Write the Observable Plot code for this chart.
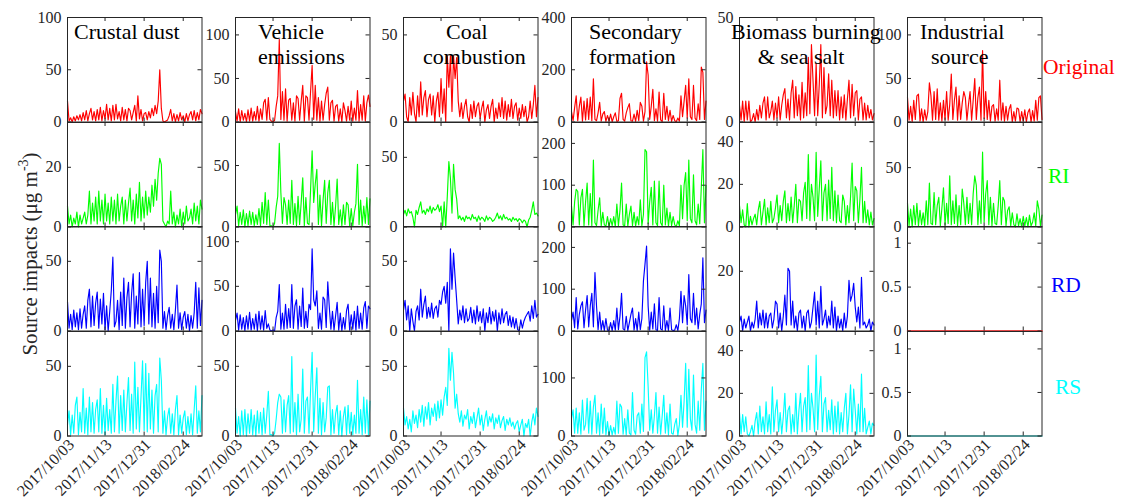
<!DOCTYPE html>
<html><head><meta charset="utf-8">
<script src="https://cdn.jsdelivr.net/npm/d3@7"></script>
<script src="https://cdn.jsdelivr.net/npm/@observablehq/plot@0.6"></script>
<style>
body{margin:0;background:#fff;}
#chart{position:relative;width:1121px;height:501px;overflow:hidden;background:#fff;}
#chart svg, #chart svg text{font-family:"Liberation Serif","Times New Roman",serif;}
</style></head><body><div id="chart"></div>
<script>
// ---------- categories / labels ----------
const sourceTitles = [["Crustal dust"], ["Vehicle", "emissions"], ["Coal", "combustion"], ["Secondary", "formation"], ["Biomass burning", "& sea salt"], ["Industrial", "source"]];
const methods = ["Original", "RI", "RD", "RS"];
const methodColors = ["#ff0000", "#00ff00", "#0000ff", "#00ffff"];
const dateLabels = ["2017/10/03", "2017/11/13", "2017/12/31", "2018/02/24"];
const dateTickIndex = [0, 24, 49, 74];
const lastIndex = 86;
// y-axis maxima [source][method]
const yMax = [[100, 35, 75, 75], [120, 85, 117, 75], [60, 75, 75, 75], [400, 250, 250, 180], [50, 49, 35, 49], [120, 88, 1.19, 1.2]];
const yTicks = [
  [[0, 50, 100], [0, 20], [0, 50], [0, 50]],
  [[0, 50, 100], [0, 50], [0, 50, 100], [0, 50]],
  [[0, 50], [0, 50], [0, 50], [0, 50]],
  [[0, 200, 400], [0, 100, 200], [0, 100, 200], [0, 100]],
  [[0, 50], [0, 20, 40], [0, 20], [0, 20, 40]],
  [[0, 50, 100], [0, 50], [0, 0.5, 1], [0, 0.5, 1]]
];

// ---------- series values ----------
const crustalOriginal = [
  20, 1, 4, 0, 5, 1, 6, 2, 7, 1,
  9, 2, 11, 1, 8, 13, 2, 10, 1, 12,
  2, 14, 1, 11, 3, 17, 2, 13, 1, 16,
  2, 17, 3, 10, 1, 14, 2, 12, 1, 13,
  11, 2, 9, 16, 1, 25, 3, 12, 1, 8,
  9, 2, 10, 4, 13, 6, 16, 8, 20, 50,
  13, 1, 0, 1, 2, 6, 12, 1, 8, 0,
  7, 1, 9, 2, 6, 0, 8, 1, 7, 10,
  2, 11, 1, 9, 2, 12, 8];
const crustalRI = [
  7, 1, 4, 0, 3, 1, 5, 0, 4, 1,
  3, 5, 1, 4, 12, 1, 8, 2, 10, 1,
  12, 2, 9, 1, 11, 2, 8, 1, 10, 2,
  9, 1, 11, 2, 7, 10, 1, 9, 2, 8,
  13, 2, 9, 1, 11, 3, 15, 2, 10, 3,
  12, 4, 10, 5, 14, 7, 16, 9, 18, 23,
  21, 2, 1, 0, 2, 1, 12, 1, 5, 0,
  4, 1, 6, 0, 5, 1, 7, 2, 3, 6,
  1, 8, 2, 7, 1, 9, 6];
const crustalRD = [
  21, 2, 12, 1, 15, 3, 13, 1, 16, 2,
  12, 18, 2, 22, 30, 3, 25, 4, 20, 28,
  2, 23, 5, 27, 1, 18, 0, 14, 29, 53,
  3, 7, 22, 1, 28, 4, 38, 2, 24, 35,
  3, 27, 41, 2, 25, 5, 42, 3, 30, 4,
  35, 50, 5, 38, 3, 27, 2, 32, 6, 58,
  50, 2, 14, 1, 11, 17, 2, 12, 1, 15,
  33, 2, 13, 1, 10, 14, 2, 12, 0, 11,
  2, 13, 35, 2, 31, 4, 22];
const crustalRS = [
  8, 18, 1, 15, 2, 22, 28, 1, 17, 3,
  34, 2, 20, 1, 28, 3, 24, 2, 19, 26,
  3, 34, 2, 22, 1, 27, 4, 19, 2, 37,
  3, 25, 43, 2, 29, 4, 33, 3, 24, 42,
  4, 30, 2, 53, 5, 35, 3, 28, 54, 4,
  52, 3, 45, 5, 33, 2, 29, 37, 3, 56,
  40, 2, 18, 1, 14, 20, 2, 16, 1, 19,
  29, 1, 15, 2, 13, 18, 1, 14, 2, 16,
  1, 19, 36, 2, 18, 3, 29];

const vehicleOriginal = [
  12, 1, 15, 0, 13, 2, 10, 0, 14, 1,
  16, 1, 12, 2, 18, 1, 15, 3, 22, 26,
  2, 28, 3, 1, 0, 2, 18, 30, 95, 3,
  35, 2, 38, 1, 25, 27, 2, 22, 1, 30,
  27, 2, 24, 42, 1, 30, 28, 2, 35, 65,
  3, 42, 2, 28, 1, 24, 2, 20, 33, 40,
  2, 22, 25, 1, 18, 20, 1, 15, 0, 22,
  13, 1, 18, 2, 24, 1, 16, 2, 36, 1,
  20, 2, 30, 1, 22, 31, 18];
const vehicleRI = [
  10, 17, 1, 12, 2, 14, 0, 11, 1, 13,
  2, 12, 1, 10, 2, 15, 1, 20, 3, 28,
  2, 22, 1, 1, 0, 3, 16, 25, 68, 28,
  3, 24, 18, 2, 22, 3, 38, 2, 19, 1,
  25, 2, 20, 40, 1, 24, 3, 2, 30, 62,
  20, 35, 47, 2, 26, 1, 22, 38, 3, 28,
  38, 2, 20, 1, 17, 39, 2, 14, 1, 18,
  2, 20, 18, 1, 15, 1, 12, 19, 51, 2,
  22, 1, 17, 3, 24, 2, 23];
const vehicleRD = [
  12, 20, 1, 18, 2, 15, 0, 17, 2, 21,
  1, 14, 2, 19, 0, 22, 2, 17, 1, 23,
  3, 8, 1, 0, 1, 0, 15, 22, 52, 2,
  20, 2, 30, 3, 25, 4, 52, 3, 28, 35,
  2, 28, 5, 48, 3, 22, 4, 30, 24, 92,
  35, 28, 45, 3, 20, 2, 38, 35, 4, 55,
  26, 2, 22, 1, 17, 32, 1, 20, 0, 15,
  2, 23, 30, 1, 18, 2, 22, 1, 28, 3,
  20, 2, 26, 33, 3, 28, 25];
const vehicleRS = [
  20, 2, 14, 0, 18, 1, 19, 0, 16, 2,
  19, 1, 15, 0, 18, 2, 17, 1, 20, 2,
  15, 32, 1, 1, 0, 2, 12, 24, 30, 28,
  2, 26, 3, 22, 29, 2, 57, 3, 24, 1,
  30, 3, 12, 48, 2, 25, 28, 2, 33, 60,
  3, 29, 49, 2, 27, 1, 24, 3, 13, 35,
  36, 1, 19, 2, 16, 22, 1, 18, 0, 14,
  21, 1, 22, 2, 17, 1, 15, 2, 40, 2,
  19, 1, 28, 2, 26, 1, 25];

const coalOriginal = [
  12, 16, 3, 0, 14, 4, 17, 5, 0, 15,
  3, 23, 4, 14, 18, 3, 13, 16, 4, 15,
  0, 12, 17, 3, 25, 5, 19, 0, 38, 20,
  38, 6, 38, 25, 37, 12, 3, 11, 2, 9,
  13, 3, 0, 10, 2, 12, 3, 9, 11, 2,
  8, 12, 0, 7, 10, 2, 9, 13, 0, 8,
  2, 11, 3, 14, 2, 12, 1, 10, 3, 13,
  2, 9, 11, 1, 8, 2, 10, 3, 9, 0,
  3, 12, 2, 10, 21, 3, 14];
const coalRI = [
  9, 12, 8, 13, 10, 11, 7, 0, 12, 9,
  14, 18, 10, 12, 9, 13, 11, 15, 10, 14,
  12, 13, 16, 11, 15, 0, 18, 0, 22, 47,
  35, 10, 45, 27, 20, 6, 8, 5, 7, 4,
  8, 6, 7, 5, 9, 6, 7, 4, 8, 5,
  7, 6, 4, 8, 5, 7, 6, 4, 5, 7,
  10, 6, 8, 5, 9, 6, 7, 5, 6, 4,
  7, 5, 6, 4, 6, 5, 3, 5, 4, 0,
  5, 7, 12, 18, 9, 10, 8];
const coalRD = [
  15, 22, 8, 18, 0, 16, 7, 0, 14, 18,
  8, 30, 10, 19, 25, 9, 17, 10, 20, 9,
  16, 18, 10, 22, 19, 28, 32, 20, 35, 0,
  59, 30, 56, 38, 22, 5, 15, 8, 18, 6,
  16, 7, 9, 17, 6, 15, 5, 18, 7, 14,
  6, 16, 0, 13, 6, 17, 5, 14, 7, 15,
  0, 13, 5, 16, 6, 12, 14, 4, 11, 3,
  10, 2, 9, 1, 0, 8, 2, 7, 10, 12,
  14, 7, 18, 9, 22, 10, 12];
const coalRS = [
  20, 8, 14, 5, 12, 3, 18, 9, 15, 6,
  19, 10, 22, 7, 21, 12, 24, 8, 20, 14,
  23, 11, 25, 13, 26, 15, 28, 35, 22, 63,
  40, 60, 45, 20, 30, 16, 10, 18, 7, 15,
  12, 19, 5, 14, 9, 17, 6, 13, 20, 8,
  15, 4, 12, 18, 7, 14, 10, 16, 5, 13,
  9, 15, 6, 11, 14, 4, 12, 8, 13, 7,
  10, 5, 9, 11, 3, 8, 12, 0, 9, 6,
  12, 0, 10, 16, 8, 20, 14];

const secondaryOriginal = [
  40, 5, 55, 100, 5, 60, 95, 3, 80, 8,
  90, 10, 95, 5, 165, 10, 5, 35, 75, 3,
  30, 40, 2, 25, 3, 30, 1, 20, 35, 2,
  5, 90, 110, 10, 3, 35, 55, 70, 5, 3,
  30, 2, 45, 5, 75, 60, 3, 40, 230, 180,
  10, 60, 125, 5, 50, 3, 115, 8, 2, 110,
  10, 60, 5, 45, 2, 25, 5, 1, 15, 3,
  100, 20, 80, 140, 15, 165, 20, 10, 140, 15,
  5, 70, 10, 210, 190, 10, 80];
const secondaryRI = [
  50, 5, 60, 90, 85, 5, 70, 90, 3, 60,
  105, 5, 80, 3, 160, 10, 3, 40, 70, 3,
  35, 5, 2, 25, 1, 20, 3, 25, 1, 55,
  3, 40, 105, 5, 3, 55, 2, 30, 50, 3,
  35, 2, 25, 5, 65, 3, 30, 185, 180, 8,
  60, 95, 5, 110, 10, 3, 110, 10, 3, 100,
  5, 45, 2, 35, 3, 25, 5, 1, 15, 3,
  100, 20, 100, 130, 15, 160, 20, 10, 125, 15,
  5, 55, 8, 95, 185, 10, 100];
const secondaryRD = [
  25, 45, 8, 80, 5, 40, 60, 70, 8, 50,
  85, 10, 60, 90, 10, 140, 60, 3, 45, 2,
  25, 1, 30, 2, 1, 20, 1, 25, 2, 55,
  3, 35, 90, 5, 2, 35, 1, 20, 40, 55,
  2, 30, 1, 45, 3, 30, 120, 160, 203, 60,
  2, 45, 5, 65, 3, 1, 80, 5, 2, 60,
  1, 25, 1, 55, 3, 1, 2, 15, 1, 30,
  95, 20, 85, 60, 15, 135, 30, 20, 90, 15,
  55, 5, 40, 65, 175, 20, 50];
const secondaryRS = [
  30, 45, 5, 48, 5, 40, 3, 62, 10, 20,
  65, 5, 60, 3, 50, 70, 5, 40, 2, 55,
  5, 48, 2, 25, 1, 18, 2, 15, 3, 60,
  5, 55, 50, 3, 30, 2, 45, 5, 2, 75,
  10, 3, 35, 40, 5, 55, 8, 135, 145, 85,
  10, 45, 5, 35, 75, 5, 50, 3, 35, 70,
  5, 40, 2, 55, 5, 3, 20, 30, 1, 20,
  70, 15, 60, 125, 15, 115, 30, 10, 105, 20,
  5, 60, 10, 80, 125, 10, 60];

const biomassOriginal = [
  8, 1, 10, 0, 10, 1, 10, 0, 1, 4,
  0, 6, 1, 8, 2, 9, 12, 1, 12, 2,
  5, 10, 1, 9, 2, 12, 1, 8, 13, 16,
  2, 11, 1, 14, 20, 2, 17, 3, 13, 1,
  19, 2, 14, 3, 31, 4, 37, 20, 3, 28,
  3, 18, 37, 2, 26, 4, 8, 23, 3, 20,
  2, 15, 3, 15, 1, 12, 2, 13, 1, 11,
  20, 2, 18, 3, 14, 15, 1, 11, 12, 1,
  9, 1, 8, 2, 6, 1, 4];
const biomassRI = [
  10, 2, 8, 1, 0, 11, 0, 5, 1, 4,
  6, 1, 8, 12, 1, 7, 13, 1, 9, 2,
  12, 2, 4, 9, 15, 2, 10, 3, 12, 17,
  2, 11, 3, 14, 2, 10, 20, 2, 13, 12,
  3, 16, 21, 4, 34, 3, 20, 14, 3, 35,
  5, 18, 31, 3, 16, 20, 3, 22, 4, 28,
  3, 17, 2, 15, 3, 2, 15, 12, 1, 10,
  2, 14, 30, 3, 19, 17, 2, 13, 28, 2,
  12, 2, 8, 1, 7, 1, 4];
const biomassRD = [
  3, 5, 0, 4, 1, 3, 5, 0, 3, 1,
  4, 10, 1, 6, 2, 7, 1, 6, 1, 5,
  6, 1, 4, 10, 9, 1, 6, 0, 5, 12,
  2, 21, 20, 2, 10, 1, 5, 0, 6, 7,
  1, 5, 0, 6, 7, 1, 3, 8, 13, 2,
  10, 1, 15, 2, 4, 7, 1, 5, 2, 10,
  1, 8, 0, 5, 1, 4, 0, 6, 1, 5,
  17, 10, 12, 16, 8, 3, 8, 1, 18, 2,
  3, 1, 2, 4, 0, 3, 2];
const biomassRS = [
  11, 1, 10, 2, 9, 1, 0, 2, 5, 0,
  7, 11, 1, 14, 2, 9, 1, 16, 2, 10,
  1, 23, 2, 12, 17, 2, 11, 1, 9, 20,
  2, 12, 14, 1, 10, 2, 20, 1, 12, 20,
  2, 14, 18, 2, 33, 3, 20, 13, 2, 38,
  3, 19, 28, 2, 15, 18, 2, 12, 3, 17,
  1, 14, 2, 16, 1, 11, 2, 13, 20, 1,
  10, 24, 2, 22, 12, 1, 15, 2, 29, 2,
  13, 1, 4, 7, 1, 6, 5];

const industrialOriginal = [
  28, 2, 18, 0, 25, 3, 30, 32, 1, 15,
  0, 14, 2, 12, 45, 30, 2, 35, 3, 38,
  2, 22, 1, 25, 3, 35, 2, 20, 55, 3,
  25, 40, 2, 30, 3, 22, 35, 28, 2, 20,
  35, 2, 25, 50, 3, 28, 40, 2, 82, 4,
  35, 3, 25, 1, 18, 20, 1, 15, 2, 48,
  2, 22, 1, 18, 2, 15, 20, 0, 12, 1,
  16, 15, 0, 12, 1, 14, 0, 11, 15, 0,
  13, 1, 25, 2, 28, 30, 3];
const industrialRI = [
  20, 1, 15, 0, 18, 2, 20, 1, 14, 2,
  12, 1, 22, 2, 37, 3, 2, 29, 2, 18,
  25, 1, 16, 33, 2, 20, 3, 43, 2, 22,
  3, 27, 1, 18, 2, 32, 20, 2, 25, 3,
  20, 2, 28, 43, 35, 2, 22, 3, 63, 4,
  28, 39, 2, 25, 1, 20, 3, 2, 18, 39,
  2, 25, 22, 1, 14, 17, 1, 12, 2, 0,
  11, 1, 7, 0, 9, 1, 8, 0, 10, 1,
  4, 12, 1, 22, 15, 1, 10];
const industrialRD = [
  0, 0, 0, 0, 0, 0, 0, 0, 0, 0,
  0, 0, 0, 0, 0, 0, 0, 0, 0, 0,
  0, 0, 0, 0, 0, 0, 0, 0, 0, 0,
  0, 0, 0, 0, 0, 0, 0, 0, 0, 0,
  0, 0, 0, 0, 0, 0, 0, 0, 0, 0,
  0, 0, 0, 0, 0, 0, 0, 0, 0, 0,
  0, 0, 0, 0, 0, 0, 0, 0, 0, 0,
  0, 0, 0, 0, 0, 0, 0, 0, 0, 0,
  0, 0, 0, 0, 0, 0, 0];
const industrialRS = [
  0, 0, 0, 0, 0, 0, 0, 0, 0, 0,
  0, 0, 0, 0, 0, 0, 0, 0, 0, 0,
  0, 0, 0, 0, 0, 0, 0, 0, 0, 0,
  0, 0, 0, 0, 0, 0, 0, 0, 0, 0,
  0, 0, 0, 0, 0, 0, 0, 0, 0, 0,
  0, 0, 0, 0, 0, 0, 0, 0, 0, 0,
  0, 0, 0, 0, 0, 0, 0, 0, 0, 0,
  0, 0, 0, 0, 0, 0, 0, 0, 0, 0,
  0, 0, 0, 0, 0, 0, 0];

const seriesGrid = [
  [crustalOriginal, crustalRI, crustalRD, crustalRS],
  [vehicleOriginal, vehicleRI, vehicleRD, vehicleRS],
  [coalOriginal, coalRI, coalRD, coalRS],
  [secondaryOriginal, secondaryRI, secondaryRD, secondaryRS],
  [biomassOriginal, biomassRI, biomassRD, biomassRS],
  [industrialOriginal, industrialRI, industrialRD, industrialRS]
];

// ---------- layout ----------
const chart = document.getElementById("chart");
const colLeft0 = 66.7, colStep = 168, panelW = 134.5;
const rowTop0 = 17.3, panelH = 104.5;
const axisColor = "#262626";
const FONT = "'Liberation Serif', 'Times New Roman', serif";

function drawPanel(c, r) {
  const values = seriesGrid[c][r];
  const data = values.map((v, i) => ({i, v}));
  const mL = 45, mR = 6, mT = 12, mB = r === 3 ? 80 : 6;
  let stroke = methodColors[r];
  const lineOnTop = (c === 5 && r === 2);
  if (lineOnTop) stroke = "#ff3030";
  const line = Plot.line(data, {x: "i", y: "v", stroke, strokeWidth: lineOnTop ? 1.6 : 1.15});
  const frame = Plot.frame({stroke: axisColor, strokeWidth: 1});
  const ticks = yTicks[c][r];
  const marks = [];
  if (lineOnTop) marks.push(frame, line); else marks.push(line, frame);
  marks.push(
    Plot.tickY(ticks, {y: d => d, insetRight: panelW - 4, stroke: axisColor}),
    Plot.tickY(ticks, {y: d => d, insetLeft: panelW - 4, stroke: axisColor}),
    Plot.tickX(dateTickIndex, {x: d => d, insetTop: panelH - 4, stroke: axisColor}),
    Plot.tickX(dateTickIndex, {x: d => d, insetBottom: panelH - 4, stroke: axisColor}),
    Plot.axisY(ticks, {tickSize: 0, tickPadding: 6, tickFormat: d => String(d), label: null, fill: axisColor, fontSize: 16, fontFamily: FONT})
  );
  if (r === 3) {
    marks.push(Plot.axisX(dateTickIndex, {
      tickSize: 0, tickPadding: 6, tickRotate: -45, label: null, fill: axisColor, fontSize: 16, fontFamily: FONT,
      tickFormat: d => dateLabels[dateTickIndex.indexOf(d)], textAnchor: "end", dx: 4, dy: 0
    }));
  }
  const svg = Plot.plot({
    width: mL + panelW + mR, height: mT + panelH + mB,
    marginLeft: mL, marginRight: mR, marginTop: mT, marginBottom: mB,
    style: {background: "transparent", overflow: "visible", fontFamily: FONT, fontSize: "16px", color: axisColor, maxWidth: "none"},
    x: {domain: [0, lastIndex], axis: null},
    y: {domain: [0, yMax[c][r]], axis: null},
    marks
  });
  svg.style.fontFamily = FONT;
  const div = document.createElement("div");
  div.style.position = "absolute";
  div.style.left = (colLeft0 + c * colStep - mL) + "px";
  div.style.top = (rowTop0 + r * panelH - mT) + "px";
  div.appendChild(svg);
  chart.appendChild(div);
}

for (let c = 0; c < 6; c++) for (let r = 0; r < 4; r++) drawPanel(c, r);

// ---------- annotations overlay ----------
const overlay = d3.select(chart).append("svg")
  .attr("width", 1121).attr("height", 501)
  .style("position", "absolute").style("left", "0px").style("top", "0px")
  .style("pointer-events", "none").style("overflow", "visible")
  .style("font-family", FONT);

const titleX = [[74], [258, 258], [446, 423], [589, 589], [731, 757.7], [920, 931]];
const titleBaselines = [39, 64];
sourceTitles.forEach((lines, c) => {
  lines.forEach((t, k) => {
    overlay.append("text").attr("x", titleX[c][k]).attr("y", titleBaselines[k])
      .attr("font-size", 22).attr("fill", "#000").text(t);
  });
});

const methodLabelX = [1043, 1048, 1051, 1055];
const methodLabelY = [74, 183, 292, 394];
methods.forEach((m, r) => {
  overlay.append("text").attr("x", methodLabelX[r]).attr("y", methodLabelY[r])
    .attr("font-size", 21.5).attr("fill", methodColors[r]).text(m);
});

const ylab = overlay.append("text")
  .attr("transform", "translate(37,254) rotate(-90)")
  .attr("text-anchor", "middle").attr("font-size", 21).attr("fill", axisColor);
ylab.append("tspan").text("Source impacts (μg m");
ylab.append("tspan").attr("dy", -9).attr("font-size", 14).text("-3");
ylab.append("tspan").attr("dy", 9).text(")");
</script></body></html>
